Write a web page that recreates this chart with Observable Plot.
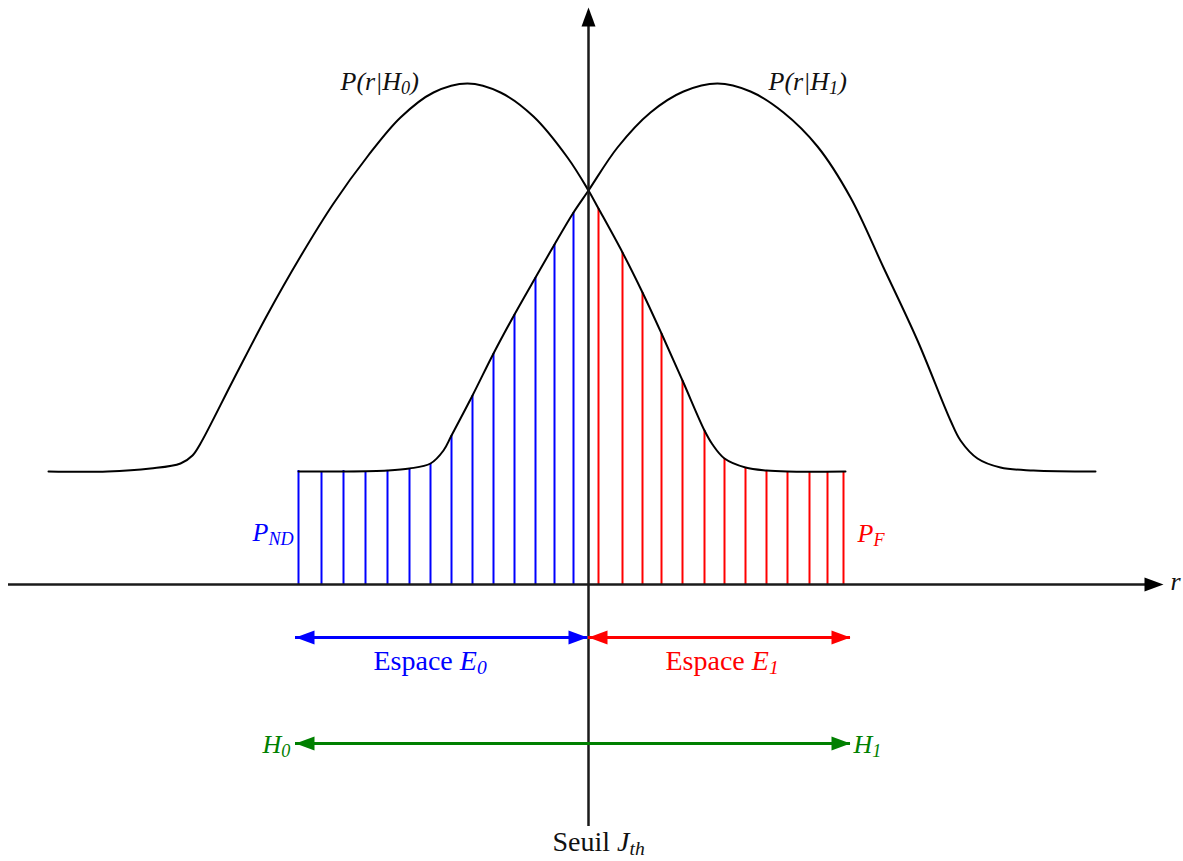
<!DOCTYPE html>
<html>
<head>
<meta charset="utf-8">
<script src="https://cdn.jsdelivr.net/npm/d3@7"></script>
<script src="https://cdn.jsdelivr.net/npm/@observablehq/plot@0.6"></script>
<style>
  html, body { margin: 0; padding: 0; background: #fff; }
  #chart svg { display: block; }
</style>
</head>
<body>
<div id="chart"></div>
<script>
// ---- Data (r = decision variable, p = density; threshold J_th at r = 0) ----
// P(r|H0)
const h0R = [-5.40, -4.81, -4.38, -4.08, -3.96, -3.88, -3.55, -3.21, -2.88, -2.55, -2.21, -1.88, -1.55, -1.21,
             -0.88, -0.55, -0.21, 0.00, 0.10, 0.34, 0.54, 0.73, 0.94, 1.16, 1.24, 1.36, 1.57, 1.78, 1.99, 2.57];
const h0P = [1.13, 1.13, 1.16, 1.21, 1.29, 1.41, 2.05, 2.70, 3.28, 3.81, 4.28, 4.67, 4.92, 5.01,
             4.92, 4.68, 4.27, 3.94, 3.76, 3.32, 2.92, 2.51, 2.04, 1.54, 1.40, 1.26, 1.17, 1.14, 1.13, 1.13];
// P(r|H1)
const h1R = [-2.90, -2.45, -2.01, -1.79, -1.58, -1.45, -1.37, -1.16, -0.95, -0.74, -0.53, -0.34, -0.15, 0.00,
             0.29, 0.62, 0.95, 1.29, 1.62, 1.95, 2.29, 2.62, 2.95, 3.29, 3.62, 3.72, 3.89, 4.12, 4.45, 5.07];
const h1P = [1.13, 1.13, 1.14, 1.16, 1.21, 1.34, 1.49, 1.89, 2.31, 2.70, 3.07, 3.40, 3.72, 3.94,
             4.37, 4.72, 4.93, 5.01, 4.93, 4.72, 4.38, 3.87, 3.17, 2.44, 1.64, 1.44, 1.26, 1.17, 1.14, 1.13];
// hatching: missed detection (P_ND) under P(r|H1) in E0
const ndR   = [-2.90, -2.67, -2.45, -2.23, -2.01, -1.79, -1.58, -1.37, -1.16, -0.95, -0.74, -0.53, -0.34, -0.15];
const ndTop = [1.14, 1.12, 1.14, 1.12, 1.14, 1.16, 1.21, 1.49, 1.89, 2.31, 2.70, 3.07, 3.40, 3.72];
// hatching: false alarm (P_F) under P(r|H0) in E1
const faR   = [0.10, 0.34, 0.54, 0.73, 0.94, 1.16, 1.36, 1.57, 1.78, 1.99, 2.21, 2.39, 2.55];
const faTop = [3.76, 3.32, 2.92, 2.51, 2.04, 1.54, 1.26, 1.17, 1.14, 1.12, 1.12, 1.12, 1.12];
// axes extents and regions
const rAxisExtent = [-5.80, 5.75];
const pAxisExtent = [-2.42, 5.77];
const spaceE0 = [-2.93, -0.01];
const spaceE1 = [0.00, 2.62];
const hypRange = [-2.93, 2.62];
const spaceLevel = -0.53;
const hypLevel = -1.59;
// labels (markup: *italic*, _{subscript})
const labels = [
  {key: "ph0",  text: "*P(r|H_{0})*", r: -2.48, p: 4.95},
  {key: "ph1",  text: "*P(r|H_{1})*", r: 1.80,  p: 4.95},
  {key: "pnd",  text: "*P_{ND}*",     r: -3.36, p: 0.44},
  {key: "pf",   text: "*P_{F}*",      r: 2.69,  p: 0.43},
  {key: "e0",   text: "Espace *E_{0}*", r: -2.15, p: -0.85},
  {key: "e1",   text: "Espace *E_{1}*", r: 0.77,  p: -0.85},
  {key: "h0",   text: "*H_{0}*",      r: -3.26, p: -1.68},
  {key: "h1",   text: "*H_{1}*",      r: 2.65,  p: -1.68},
  {key: "seuil",text: "Seuil *J_{th}*", r: -0.36, p: -2.665},
  {key: "r",    text: "*r*",          r: 5.82,  p: -0.05}
];

// ---- build rows ----
const h0 = h0R.map((r, i) => ({r, p: h0P[i]}));
const h1 = h1R.map((r, i) => ({r, p: h1P[i]}));
const nd = ndR.map((r, i) => ({r, top: ndTop[i]}));
const fa = faR.map((r, i) => ({r, top: faTop[i]}));

const BLUE = "#0000ff", RED = "#ff0000", GREEN = "#008000", AXIS = "#1a1a1a";

// filled arrow head, tip at the anchor point, pointing right before rotation
const head = {draw(ctx) { ctx.moveTo(0, 0); ctx.lineTo(-19, -7); ctx.lineTo(-19, 7); ctx.closePath(); }};

function doubleArrow(extent, level, color) {
  return [
    Plot.ruleY([level], {x1: extent[0], x2: extent[1], stroke: color, strokeWidth: 3}),
    Plot.dot([{r: extent[0], p: level}], {x: "r", y: "p", symbol: head, r: 5, rotate: 180, fill: color, stroke: "none"}),
    Plot.dot([{r: extent[1], p: level}], {x: "r", y: "p", symbol: head, r: 5, rotate: 0, fill: color, stroke: "none"})
  ];
}
function label(keys, color, size) {
  return Plot.text(labels.filter(d => keys.includes(d.key)), {
    x: "r", y: "p", text: "text", fill: color, fontSize: size,
    textAnchor: "start", lineAnchor: "bottom"
  });
}

const plot = Plot.plot({
  width: 1183,
  height: 861,
  margin: 0,
  x: {domain: [-5.88, 5.95], axis: null},
  y: {domain: [-2.77, 5.84], axis: null},
  style: {fontFamily: "'Liberation Serif', 'Times New Roman', serif", background: "#fff", overflow: "visible"},
  marks: [
    // hatching
    Plot.ruleX(nd, {x: "r", y1: 0, y2: "top", stroke: BLUE, strokeWidth: 2}),
    Plot.ruleX(fa, {x: "r", y1: 0, y2: "top", stroke: RED, strokeWidth: 2}),
    // densities
    Plot.line(h0, {x: "r", y: "p", curve: "catmull-rom", stroke: "#000", strokeWidth: 2}),
    Plot.line(h1, {x: "r", y: "p", curve: "catmull-rom", stroke: "#000", strokeWidth: 2}),
    // axes
    Plot.ruleY([0], {x1: rAxisExtent[0], x2: rAxisExtent[1] - 0.05, stroke: AXIS, strokeWidth: 2.5}),
    Plot.ruleX([0], {y1: pAxisExtent[0], y2: pAxisExtent[1] - 0.05, stroke: AXIS, strokeWidth: 2.5}),
    Plot.dot([{r: rAxisExtent[1], p: 0}], {x: "r", y: "p", symbol: head, r: 5, rotate: 0, fill: "#000", stroke: "none"}),
    Plot.dot([{r: 0, p: pAxisExtent[1]}], {x: "r", y: "p", symbol: head, r: 5, rotate: -90, fill: "#000", stroke: "none"}),
    // region arrows
    ...doubleArrow(spaceE0, spaceLevel, BLUE),
    ...doubleArrow(spaceE1, spaceLevel, RED),
    ...doubleArrow(hypRange, hypLevel, GREEN),
    // labels
    label(["ph0", "ph1", "r"], "#111", 26),
    label(["seuil"], "#111", 28),
    label(["pnd"], BLUE, 26),
    label(["pf"], RED, 26),
    label(["e0"], BLUE, 28),
    label(["e1"], RED, 28),
    label(["h0", "h1"], GREEN, 26)
  ]
});

// turn the little markup into tspans (italic / subscript), keeping real text
d3.select(plot).selectAll("g[aria-label=text] text").each(function() {
  const el = this;
  const src = el.textContent;
  const base = parseFloat(el.parentNode.getAttribute("font-size")) || 26;
  const subSize = base * 0.7, shift = base * 0.16;
  el.textContent = "";
  let italic = false, lowered = false;
  const re = /(\*)|_\{([^}]*)\}|([^*_]+)/g;
  let m;
  while ((m = re.exec(src))) {
    if (m[1]) { italic = !italic; continue; }
    const t = document.createElementNS("http://www.w3.org/2000/svg", "tspan");
    if (italic) t.setAttribute("font-style", "italic");
    if (m[2] !== undefined) {
      t.textContent = m[2];
      t.setAttribute("font-size", subSize);
      if (!lowered) { t.setAttribute("dy", shift); lowered = true; }
    } else {
      t.textContent = m[3];
      if (lowered) { t.setAttribute("dy", -shift); lowered = false; }
    }
    el.appendChild(t);
  }
});

document.getElementById("chart").appendChild(plot);
</script>
</body>
</html>
